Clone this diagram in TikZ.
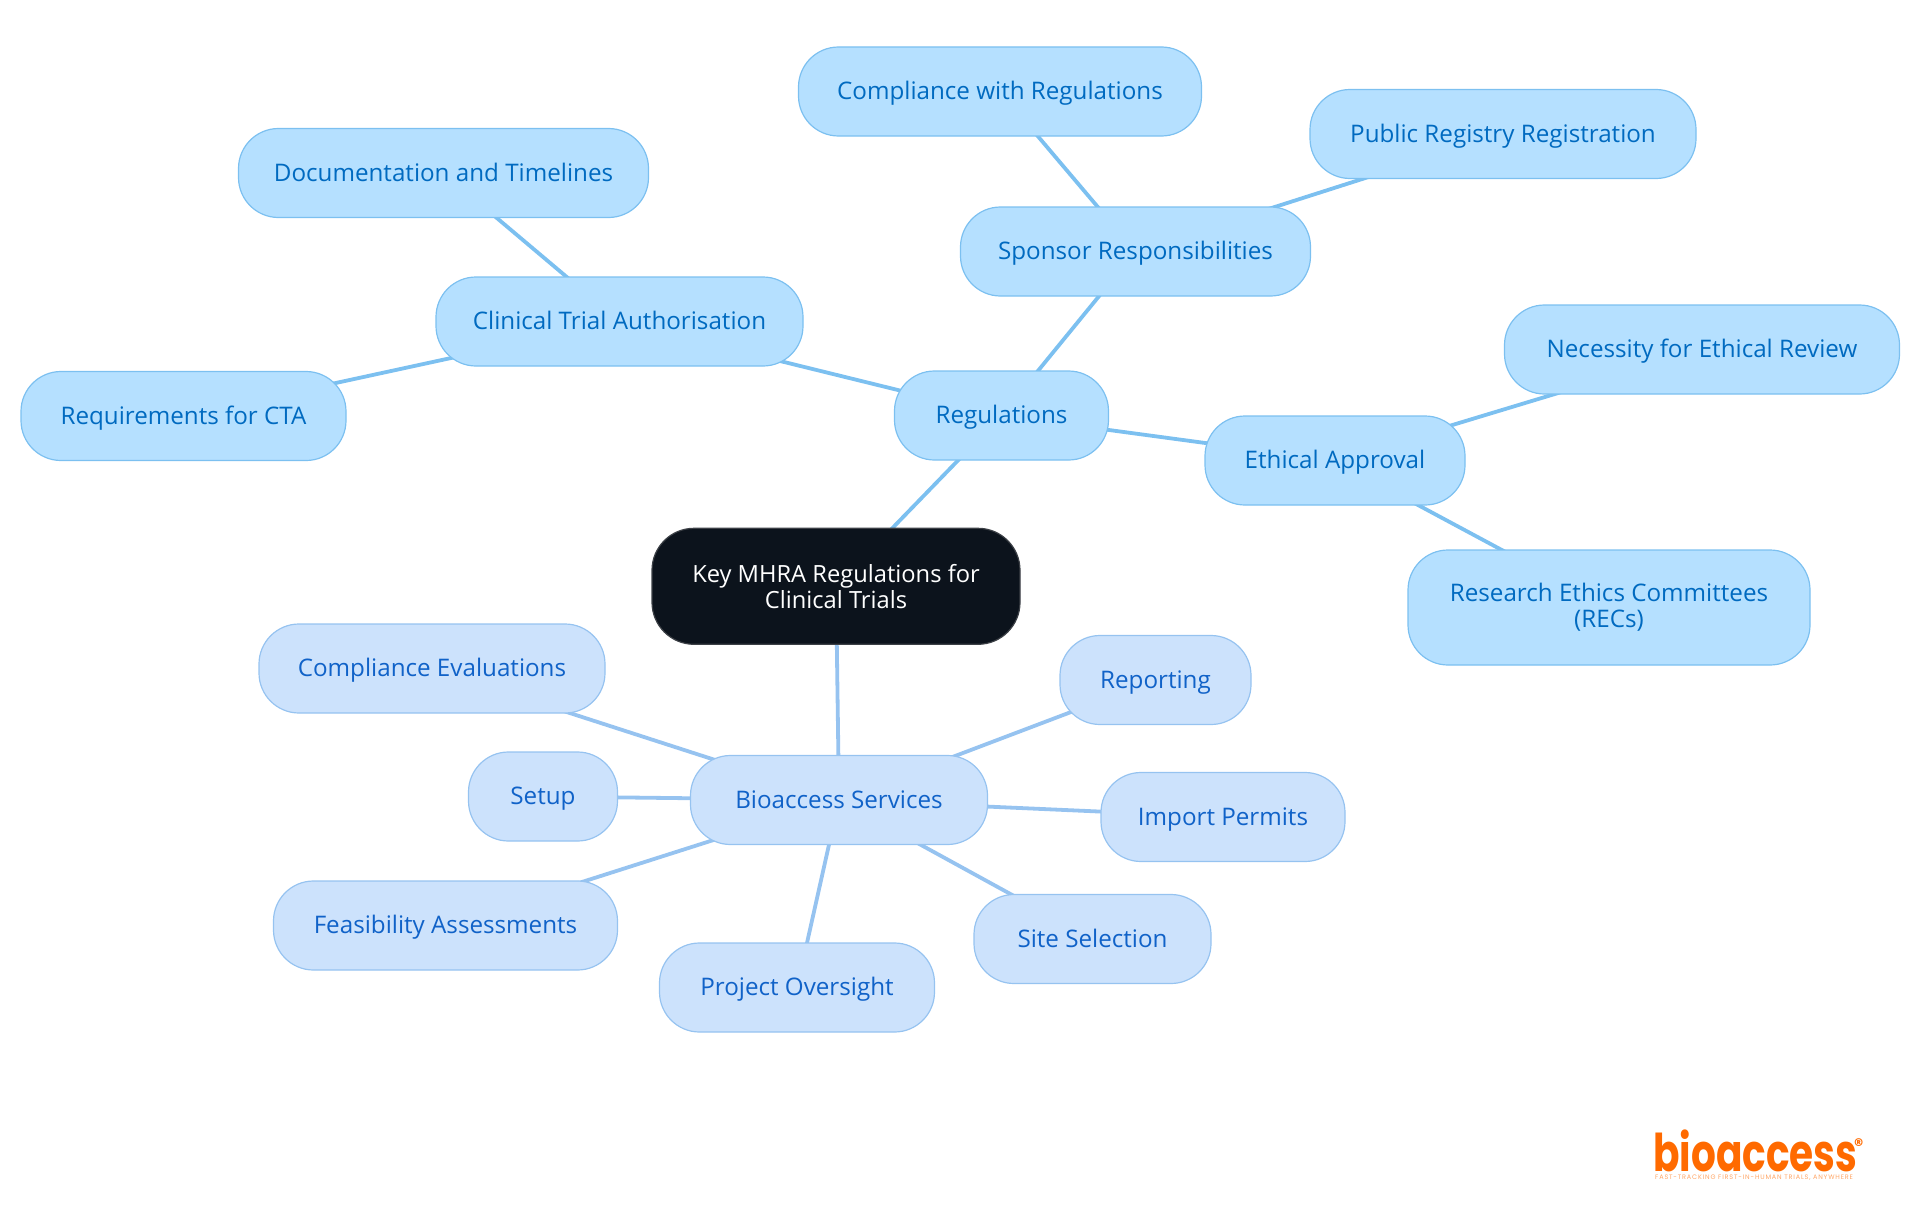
\documentclass[tikz,border=0pt]{standalone}
\usepackage{fontspec}
\setmainfont{Open Sans}
\newfontfamily\logofont[FakeStretch=0.75]{Poppins}
\newfontfamily\markfont{Poppins}
\newfontfamily\slogfont[LetterSpace=12.6]{Poppins}
\usetikzlibrary{backgrounds}
\begin{document}
\begin{tikzpicture}[x=1pt,y=-1pt,line cap=round,
	topicbox/.style={draw=custcol_7c_c0_f0, line width=1.2pt, fill=custcol_b5_e0_ff, text=custcol_0_6a_c0, rounded corners=40pt, minimum height=89pt, align=center, inner sep=0, font=\fontsize{24.2pt}{26pt}\selectfont},
	oneline/.style={text height=22pt, text depth=6pt},
	servicebox/.style={topicbox, draw=custcol_96_c3_f0, fill=custcol_cc_e2_fc, text=custcol_10_62_c8},
	rootbox/.style={topicbox, draw=custcol_3c_40_46, fill=custcol_0c_13_1c, text=white, rounded corners=42pt, font=\fontsize{23.7pt}{26pt}\selectfont},
	logotext/.style={inner sep=0, anchor=base west, text=custcol_ff_6a_00},
	topicline/.style={draw=custcol_7c_c0_f0, line width=3.8pt, line cap=butt},
	serviceline/.style={draw=custcol_96_c3_f0, line width=3.8pt, line cap=butt}]
	\definecolor{custcol_7c_c0_f0}{RGB}{124, 192, 240}
	\definecolor{custcol_b5_e0_ff}{RGB}{181, 224, 255}
	\definecolor{custcol_0_6a_c0}{RGB}{0, 106, 192}
	\definecolor{custcol_96_c3_f0}{RGB}{150, 195, 240}
	\definecolor{custcol_cc_e2_fc}{RGB}{204, 226, 252}
	\definecolor{custcol_10_62_c8}{RGB}{16, 98, 200}
	\definecolor{custcol_3c_40_46}{RGB}{60, 64, 70}
	\definecolor{custcol_0c_13_1c}{RGB}{12, 19, 28}
	\definecolor{custcol_ff_6a_00}{RGB}{255, 106, 0}
	\useasboundingbox (0,0) rectangle (1920,1215);
	\node [rootbox, minimum width=368pt, minimum height=116pt] (root) at (836.0,586.3) {Key MHRA Regulations for\\Clinical Trials};
	\node [topicbox, oneline, minimum width=214pt] (regs) at (1001.5,415.5) {Regulations};
	\node [topicbox, oneline, minimum width=367pt] (cta) at (619.5,321.5) {Clinical Trial Authorisation};
	\node [topicbox, oneline, minimum width=410pt] (docs) at (443.5,173.0) {Documentation and Timelines};
	\node [topicbox, oneline, minimum width=325pt] (reqs) at (183.5,416.0) {Requirements for CTA};
	\node [topicbox, oneline, minimum width=350pt] (sponsor) at (1135.5,251.5) {Sponsor Responsibilities};
	\node [topicbox, oneline, minimum width=403pt] (comply) at (1000.0,91.5) {Compliance with Regulations};
	\node [topicbox, oneline, minimum width=386pt] (registry) at (1503.0,134.0) {Public Registry Registration};
	\node [topicbox, oneline, minimum width=260pt] (ethics) at (1335.0,460.5) {Ethical Approval};
	\node [topicbox, oneline, minimum width=395pt] (review) at (1702.0,349.5) {Necessity for Ethical Review};
	\node [topicbox, minimum width=402pt, minimum height=115pt] (recs) at (1609.0,607.5) {Research Ethics Committees\\(RECs)};
	\node [servicebox, oneline, minimum width=297pt] (services) at (839.0,800.0) {Bioaccess Services};
	\node [servicebox, oneline, minimum width=346pt] (evals) at (432.0,668.5) {Compliance Evaluations};
	\node [servicebox, oneline, minimum width=191pt] (report) at (1155.5,680.0) {Reporting};
	\node [servicebox, oneline, minimum width=149pt] (setup) at (543.0,796.5) {Setup};
	\node [servicebox, oneline, minimum width=244pt] (permits) at (1223.0,817.0) {Import Permits};
	\node [servicebox, oneline, minimum width=344pt] (feas) at (445.5,925.5) {Feasibility Assessments};
	\node [servicebox, oneline, minimum width=275pt] (oversight) at (797.0,987.5) {Project Oversight};
	\node [servicebox, oneline, minimum width=237pt] (sites) at (1092.5,939.0) {Site Selection};
	\node [logotext, font=\logofont\fontsize{52pt}{52pt}\fontseries{b}\selectfont] (brand) at (1653.0,1171.0) {bioaccess};
	\node [logotext, font=\markfont\fontsize{18pt}{18pt}\fontseries{b}\selectfont] (regmark) at (1854.0,1151.0) {®};
	\node [logotext, opacity=0.6, font=\slogfont\fontsize{6.5pt}{6.5pt}\selectfont] (slogan) at (1655.0,1179.0) {FAST-TRACKING FIRST-IN-HUMAN TRIALS, ANYWHERE};
	\begin{scope}[on background layer]
		\foreach \from/\to in {root/regs,regs/cta,cta/docs,cta/reqs,regs/sponsor,sponsor/comply,sponsor/registry,regs/ethics,ethics/review,ethics/recs}
			\draw [topicline] (\from.center) -- (\to.center);
		\foreach \from/\to in {root/services,services/evals,services/report,services/setup,services/permits,services/feas,services/oversight,services/sites}
			\draw [serviceline] (\from.center) -- (\to.center);
	\end{scope}
\end{tikzpicture}
\end{document}
